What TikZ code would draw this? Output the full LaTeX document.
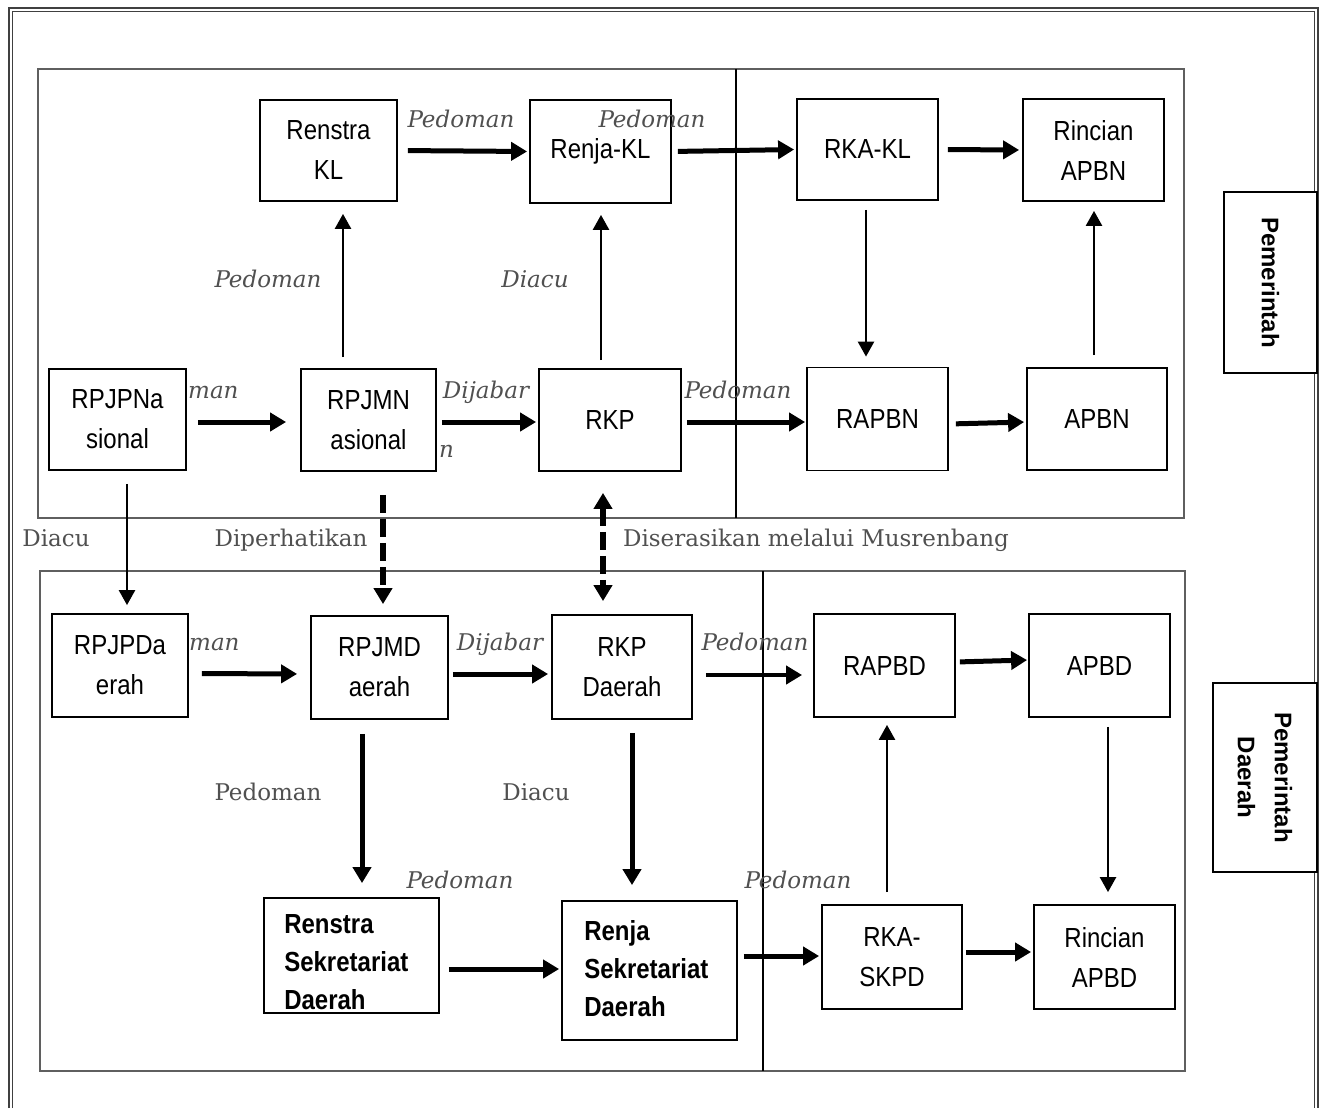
\documentclass[tikz,border=0pt]{standalone}
\usepackage{fontspec}
\setmainfont{Liberation Sans}
\newfontfamily\lblfont{DejaVu Serif}
\usetikzlibrary{arrows.meta}
\definecolor{lblgray}{RGB}{80,80,80}
\definecolor{panelgray}{RGB}{95,95,95}
\newcommand{\tallx}[1]{\scalebox{1}[1.15]{#1}}

\begin{document}
\begin{tikzpicture}[x=1pt,y=-1pt,
  bx/.style={draw=black, line width=1.8pt, fill=white, align=center, inner sep=0pt,
    font=\fontsize{24}{40}\selectfont},
  sidebox/.style={draw=black, line width=1.8pt, fill=white, rotate=-90, align=center,
    inner sep=0pt, font=\bfseries\fontsize{24}{37}\selectfont},
  boldtxt/.style={anchor=west, align=left, inner sep=0pt, font=\bfseries\fontsize{24}{38}\selectfont},
  lbl/.style={text=lblgray, font=\lblfont\itshape\fontsize{23}{26}\selectfont, anchor=base, inner sep=0pt},
  lblup/.style={text=lblgray, font=\lblfont\fontsize{23}{26}\selectfont, anchor=base, inner sep=0pt},
  fatarrow/.style={line width=5pt, -{Triangle[length=16pt,width=18pt]}},
  slimarrow/.style={line width=2.5pt, -{Triangle[length=15pt,width=16pt]}},
  dasharrow/.style={line width=6pt, dash pattern=on 18pt off 6pt, -{Triangle[length=16pt,width=18pt]}},
  panel/.style={draw=panelgray, line width=1.2pt},
  divider/.style={draw=black, line width=1.2pt},
]
\useasboundingbox (0,0) rectangle (1319,1108);

% outer double frame (bottom edge outside the picture)
\draw[line width=2pt, draw=black!75] (8.5,1108) -- (8.5,8) -- (1317.5,8) -- (1317.5,1108);
\draw[line width=1pt, draw=black!75] (12,1108) -- (12,11.5) -- (1314.5,11.5) -- (1314.5,1108);

% panels
\draw[panel] (38,69) rectangle (1184,518);
\draw[panel] (40,571) rectangle (1185,1071);
\draw[divider] (736,69) -- (736,518);
\draw[divider] (763,571) -- (763,1071);

% top panel boxes
\node[bx, minimum width=137pt, minimum height=101pt] (renstrakl) at (328.5,150.5) {\tallx{Renstra}\\\tallx{KL}};
\node[bx, minimum width=141pt, minimum height=103pt] (renjakl) at (600.5,151.5) {\tallx{Renja-KL}};
\node[bx, minimum width=141pt, minimum height=101pt] (rkakl) at (867.5,149.5) {\tallx{RKA-KL}};
\node[bx, minimum width=141pt, minimum height=102pt] (rincianapbn) at (1093.5,150) {\tallx{Rincian}\\\tallx{APBN}};
\node[bx, minimum width=137pt, minimum height=101pt] (rpjpn) at (117.5,419.5) {\tallx{RPJPNa}\\\tallx{sional}};
\node[bx, minimum width=135pt, minimum height=102pt] (rpjmn) at (368.5,420) {\tallx{RPJMN}\\\tallx{asional}};
\node[bx, minimum width=142pt, minimum height=102pt] (rkp) at (610,420) {\tallx{RKP}};
\node[bx, minimum width=141pt, minimum height=103pt] (rapbn) at (877.5,419) {\tallx{RAPBN}};
\node[bx, minimum width=140pt, minimum height=102pt] (apbn) at (1097,419) {\tallx{APBN}};

% bottom panel boxes
\node[bx, minimum width=136pt, minimum height=103pt] (rpjpd) at (120,665.5) {\tallx{RPJPDa}\\\tallx{erah}};
\node[bx, minimum width=137pt, minimum height=103pt] (rpjmd) at (379.5,667.5) {\tallx{RPJMD}\\\tallx{aerah}};
\node[bx, minimum width=140pt, minimum height=104pt] (rkpd) at (622,667) {\tallx{RKP}\\\tallx{Daerah}};
\node[bx, minimum width=141pt, minimum height=103pt] (rapbd) at (884.5,665.5) {\tallx{RAPBD}};
\node[bx, minimum width=141pt, minimum height=103pt] (apbd) at (1099.5,665.5) {\tallx{APBD}};
\node[bx, minimum width=175pt, minimum height=115pt] (renstrasek) at (351.5,955.5) {};
\node[boldtxt] (renstrasektxt) at ([xshift=21pt,yshift=-7pt]renstrasek.west) {\tallx{Renstra}\\\tallx{Sekretariat}\\\tallx{Daerah}};
\node[bx, minimum width=175pt, minimum height=139pt] (renjasek) at (649.5,970.5) {};
\node[boldtxt] (renjasektxt) at ([xshift=23pt,yshift=2pt]renjasek.west) {\tallx{Renja}\\\tallx{Sekretariat}\\\tallx{Daerah}};
\node[bx, minimum width=140pt, minimum height=104pt] (rkaskpd) at (892,957) {\tallx{RKA-}\\\tallx{SKPD}};
\node[bx, minimum width=141pt, minimum height=104pt] (rincianapbd) at (1104.5,957) {\tallx{Rincian}\\\tallx{APBD}};

% side boxes
\node[sidebox, minimum width=181pt, minimum height=93pt] (pem) at (1270.5,282.5) {Pemerintah};
\node[sidebox, minimum width=189pt, minimum height=104pt] (pemda) at (1265,777.5) {Pemerintah\\Daerah};

% top connectors
\draw[fatarrow, shorten <=10pt, shorten >=2pt] (renstrakl.east) -- (renjakl.west);
\draw[fatarrow, shorten <=6pt, shorten >=2pt] (renjakl.east) -- (rkakl.west);
\draw[fatarrow, shorten <=9pt, shorten >=3pt] (rkakl.east) -- (rincianapbn.west);
\draw[fatarrow, shorten <=11pt, shorten >=14pt] ([yshift=-2.5pt]rpjpn.east) -- ([yshift=-2pt]rpjmn.west);
\draw[fatarrow, shorten <=5pt, shorten >=2pt] ([yshift=-2pt]rpjmn.east) -- ([yshift=-2pt]rkp.west);
\draw[fatarrow, shorten <=5pt, shorten >=1pt] ([yshift=-2pt]rkp.east) -- ([yshift=-3pt]rapbn.west);
\draw[fatarrow, shorten <=7pt, shorten >=2pt] ([yshift=-5pt]rapbn.east) -- ([yshift=-3pt]apbn.west);
\draw[slimarrow, shorten <=11pt, shorten >=12pt] ([xshift=-25.5pt]rpjmn.north) -- ([xshift=14.5pt]renstrakl.south);
\draw[slimarrow, shorten <=8pt, shorten >=11pt] ([xshift=-9pt]rkp.north) -- ([xshift=0.5pt]renjakl.south);
\draw[slimarrow, shorten <=9pt, shorten >=10pt] ([xshift=-1.5pt]rkakl.south) -- ([xshift=-11.5pt]rapbn.north);
\draw[slimarrow, shorten <=12pt, shorten >=9pt] ([xshift=-3pt]apbn.north) -- ([xshift=0.5pt]rincianapbn.south);

% between panels
\draw[slimarrow, shorten <=13pt, shorten >=8pt] ([xshift=9.5pt]rpjpn.south) -- ([xshift=7pt]rpjpd.north);
\draw[dasharrow, shorten <=23pt, shorten >=11pt] ([xshift=14.5pt]rpjmn.south) -- ([xshift=3.5pt]rpjmd.north);
\draw[dasharrow, {Triangle[length=16pt,width=18pt]}-{Triangle[length=16pt,width=18pt]}, shorten <=21pt, shorten >=13pt] ([xshift=-7pt]rkp.south) -- ([xshift=-19pt]rkpd.north);

% bottom connectors
\draw[fatarrow, shorten <=13pt, shorten >=13pt] ([yshift=-8pt]rpjpd.east) -- ([yshift=-6.5pt]rpjmd.west);
\draw[fatarrow, shorten <=4pt, shorten >=3pt] ([yshift=-6.5pt]rpjmd.east) -- ([yshift=-7pt]rkpd.west);
\draw[fatarrow, line width=4pt, shorten <=13pt, shorten >=11pt] ([yshift=-8pt]rkpd.east) -- ([yshift=-9.5pt]rapbd.west);
\draw[fatarrow, shorten <=4pt, shorten >=1pt] ([yshift=3.5pt]rapbd.east) -- ([yshift=5.5pt]apbd.west);
\draw[fatarrow, shorten <=14pt, shorten >=14pt] ([xshift=-17.5pt]rpjmd.south) -- ([xshift=10.5pt]renstrasek.north);
\draw[fatarrow, shorten <=13pt, shorten >=15pt] ([xshift=10pt]rkpd.south) -- ([xshift=-17.5pt]renjasek.north);
\draw[slimarrow, shorten <=12pt, shorten >=7pt] ([xshift=-5pt]rkaskpd.north) -- ([xshift=2.5pt]rapbd.south);
\draw[slimarrow, shorten <=9pt, shorten >=12pt] ([xshift=8.5pt]apbd.south) -- ([xshift=3.5pt]rincianapbd.north);
\draw[fatarrow, shorten <=9pt, shorten >=2pt] ([yshift=-13.5pt]renstrasek.east) -- ([yshift=1.5pt]renjasek.west);
\draw[fatarrow, shorten <=6pt, shorten >=2pt] ([yshift=14.5pt]renjasek.east) -- ([yshift=1pt]rkaskpd.west);
\draw[fatarrow, shorten <=3pt, shorten >=2pt] ([yshift=5pt]rkaskpd.east) -- ([yshift=5pt]rincianapbd.west);

% labels
\node[lbl] (l1) at (461,127) {Pedoman};
\node[lbl] (l2) at (652,127) {Pedoman};
\node[lbl] (l3) at (268,287) {Pedoman};
\node[lbl] (l4) at (535,287) {Diacu};
\node[lbl, anchor=base west] (l5) at (188,398) {man};
\node[lbl] (l6) at (486,398) {Dijabar};
\node[lbl, anchor=base west] (l7) at (439,457) {n};
\node[lbl] (l8) at (738,398) {Pedoman};
\node[lblup] (l9) at (56,546) {Diacu};
\node[lblup] (l10) at (291,546) {Diperhatikan};
\node[lblup] (l11) at (816,546) {Diserasikan melalui Musrenbang};
\node[lbl, anchor=base west] (l12) at (189,650) {man};
\node[lbl] (l13) at (500,650) {Dijabar};
\node[lbl] (l14) at (755,650) {Pedoman};
\node[lblup] (l15) at (268,800) {Pedoman};
\node[lblup] (l16) at (536,800) {Diacu};
\node[lbl] (l17) at (460,888) {Pedoman};
\node[lbl] (l18) at (798,888) {Pedoman};
\end{tikzpicture}
\end{document}
